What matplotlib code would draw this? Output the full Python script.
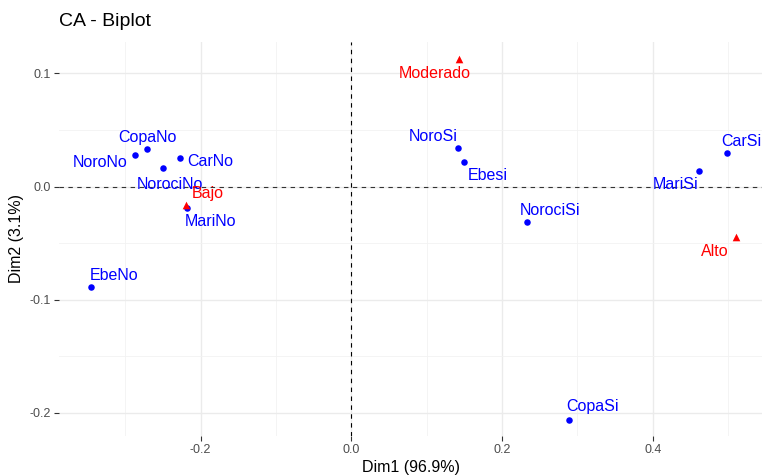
import numpy as np
import matplotlib.pyplot as plt

plt.rcParams['font.family'] = ['Liberation Sans', 'DejaVu Sans']

# row points (blue)
row_names = ['CopaNo', 'NoroNo', 'CarNo', 'NorociNo', 'MariNo', 'EbeNo',
             'NoroSi', 'Ebesi', 'NorociSi', 'MariSi', 'CarSi', 'CopaSi']
row_x = [-0.271, -0.287, -0.227, -0.250, -0.218, -0.345,
         0.141, 0.150, 0.233, 0.461, 0.498, 0.289]
row_y = [0.033, 0.028, 0.025, 0.016, -0.019, -0.089,
         0.034, 0.022, -0.031, 0.014, 0.030, -0.206]

# column points (red)
col_names = ['Bajo', 'Moderado', 'Alto']
col_x = [-0.219, 0.143, 0.510]
col_y = [-0.016, 0.113, -0.045]

# label offsets (pixels), repel-style
row_off = [(0, 12), (-35, -8), (30, -3), (7, -16), (23, -13), (23, 12),
           (-24, 12), (23, -14), (23, 11), (-23, -14), (15, 11), (23, 13)]
col_off = [(21, 11), (-24, -15), (-21, -14)]

fig = plt.figure(figsize=(7.62, 4.76), dpi=100)
ax = fig.add_axes([59 / 762, 1 - 436 / 476, 1 - 59 / 762, (436 - 41.7) / 476])

ax.set_xlim(-0.388, 0.545)
ax.set_ylim(-0.2205, 0.128)

ax.set_xticks([-0.2, 0.0, 0.2, 0.4])
ax.set_xticks([-0.3, -0.1, 0.1, 0.3, 0.5], minor=True)
ax.set_yticks([-0.2, -0.1, 0.0, 0.1])
ax.set_yticks([-0.15, -0.05, 0.05], minor=True)
ax.set_xticklabels(['-0.2', '0.0', '0.2', '0.4'])
ax.set_yticklabels(['-0.2', '-0.1', '0.0', '0.1'])

ax.grid(which='major', color='#EBEBEB', linewidth=1.0)
ax.grid(which='minor', color='#F2F2F2', linewidth=0.6)
ax.set_axisbelow(True)
for s in ax.spines.values():
    s.set_visible(False)
ax.tick_params(which='major', length=3.5, width=0.8, color='#333333',
               labelcolor='#4D4D4D', labelsize=9, pad=2)
ax.tick_params(which='minor', length=0)

ax.axhline(0, color='#333333', linestyle=(0, (4, 4)), linewidth=0.8, zorder=1)
ax.axvline(0, color='black', linestyle=(0, (4, 4)), linewidth=0.8, zorder=1)

ax.scatter(row_x, row_y, s=22, color='blue', marker='o', zorder=3, linewidths=0)
ax.scatter(col_x, col_y, s=30, color='red', marker='^', zorder=3, linewidths=0)

for name, x, y, (dx, dy) in zip(row_names, row_x, row_y, row_off):
    ax.annotate(name, (x, y), xytext=(dx, dy), textcoords='offset pixels',
                ha='center', va='center', color='blue', fontsize=11.5, zorder=4)
for name, x, y, (dx, dy) in zip(col_names, col_x, col_y, col_off):
    ax.annotate(name, (x, y), xytext=(dx, dy), textcoords='offset pixels',
                ha='center', va='center', color='red', fontsize=11.5, zorder=4)

ax.set_xlabel('Dim1 (96.9%)', fontsize=11.5, labelpad=3)
ax.set_ylabel('Dim2 (3.1%)', fontsize=11.5, labelpad=4)
fig.text(59 / 762, 1 - 22 / 476, 'CA - Biplot', fontsize=14, ha='left', va='center')

fig.savefig('out.png', dpi=100, facecolor='white')
